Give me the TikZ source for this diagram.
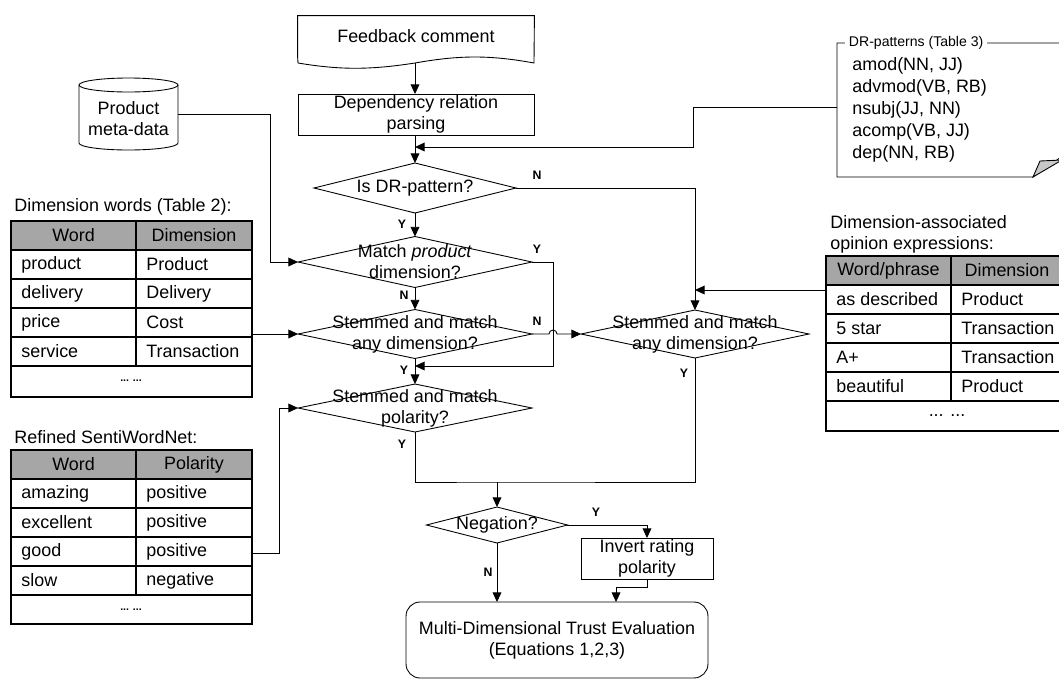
\documentclass[tikz,border=0pt]{standalone}
\usepackage{fontspec}
\setmainfont{Liberation Sans}
\usepackage{xcolor}
\usepackage{tikz}
\usetikzlibrary{arrows.meta, positioning, calc, shapes.geometric}

\definecolor{hdrgray}{HTML}{A6A6A6}
\definecolor{foldgray}{HTML}{C8C8C8}

\begin{document}
\begin{tikzpicture}[x=0.02cm, y=-0.02cm,
  every node/.style={font=\fontsize{10.2}{12}\selectfont},
  line width=0.5pt,
  arr/.style={-{Triangle[length=5.5pt,width=5pt]}},
  dmd/.style={diamond, draw, inner sep=0pt, outer sep=0pt},
  box/.style={draw, inner sep=0pt, outer sep=0pt, align=center},
  yn/.style={font=\fontsize{7}{8}\selectfont\bfseries, inner sep=0pt},
  tbl/.style={line width=0.9pt},
  cell/.style={anchor=west, inner sep=0pt}]
  \useasboundingbox (0,0) rectangle (1059,680);

  % Feedback comment (document)
  \node[inner sep=0pt, minimum width=4.72cm, minimum height=0.8cm] (fb) at (416,36) {Feedback comment};
  \draw (fb.south west) -- (fb.north west) -- (fb.north east) -- (534,63)
        .. controls (490,55) and (460,55) .. (415,63)
        .. controls (370,70) and (340,70) .. (298,63) -- cycle;
  \coordinate (fbout) at (415,63);
  % Dependency relation parsing
  \node[box, minimum width=4.72cm, minimum height=0.82cm] (dep) at (416,114.5) {Dependency relation\\parsing};
  \draw[arr] (fbout) -- (dep.north -| fbout);

  % decisions, main column
  \node[dmd, minimum width=4.04cm, minimum height=1.0cm,
        label={center:Is DR-pattern?}] (isdr) at (415,188) {};
  \node[dmd, minimum width=4.68cm, minimum height=1.02cm,
        label={[align=center]center:Match \textit{product}\\dimension?}] (mprod) at (415,262) {};
  \node[dmd, minimum width=4.68cm, minimum height=0.98cm,
        label={[align=center]center:Stemmed and match\\any dimension?}] (stemL) at (415,334) {};
  \node[dmd, minimum width=4.68cm, minimum height=0.96cm,
        label={[align=center]center:Stemmed and match\\polarity?}] (pol) at (415,408) {};
  % decision, right column
  \node[dmd, minimum width=4.56cm, minimum height=0.96cm,
        label={[align=center]center:Stemmed and match\\any dimension?}] (stemR) at (695,334) {};
  % negation
  \node[dmd, minimum width=2.82cm, minimum height=0.72cm,
        label={center:Negation?}] (neg) at (497,525) {};
  \node[box, minimum width=2.64cm, minimum height=0.82cm] (inv) at (647,558.5) {Invert rating\\polarity};
  \node[box, rounded corners=8pt, minimum width=6.04cm, minimum height=1.52cm] (mdte) at (557,640)
        {Multi-Dimensional Trust Evaluation\\(Equations 1,2,3)};

  % Product meta-data (cylinder)
  \node[inner sep=0pt, minimum width=1.98cm, minimum height=1.44cm,
        label={[align=center, yshift=-0.1cm]center:Product\\meta-data}] (pmd) at (128.5,114) {};
  \draw (79,85) -- (79,143) arc[start angle=180, end angle=360, x radius=0.99cm, y radius=0.14cm] -- (178,85);
  \draw (128.5,85) ellipse [x radius=0.99cm, y radius=0.14cm];

  % DR-patterns note
  \draw (1068,43) -- (837,43) -- (837,177) -- (1033,177) -- (1068,152);
  \filldraw[fill=foldgray] (1033,177) -- (1040,161) -- (1062,160) -- cycle;
  \node[anchor=west, fill=white, inner sep=2pt, font=\fontsize{8}{9}\selectfont] (drtitle) at (845,43) {DR-patterns (Table 3)};
  \node[anchor=west, align=left, inner sep=0pt, font=\fontsize{10.2}{12.6}\selectfont] (drlist) at (852,110)
        {amod(NN, JJ)\\advmod(VB, RB)\\nsubj(JJ, NN)\\acomp(VB, JJ)\\dep(NN, RB)};
  \coordinate (drout) at (837,107);
  \coordinate (drin) at (415,147);

  % Dimension words (Table 2)
  \node[cell] (dwt) at (14,207) {Dimension words (Table 2):};
  \fill[hdrgray] (11,221) rectangle (252,250);
  \draw[tbl] (11,221) rectangle (252,397);
  \draw[tbl] (136,221) -- (136,366);
  \foreach \y in {250,279,308,337,366} \draw[tbl] (11,\y) -- (252,\y);
  \node (dwh1) at (73.5,235.5) {Word};
  \node (dwh2) at (194,235.5) {Dimension};
  \foreach \w/\d [count=\i] in {product/Product,delivery/Delivery,price/Cost,service/Transaction} {
    \node[cell] (dw\i-a) at (21,{235.5+29*\i}) {\w};
    \node[cell] (dw\i-b) at (146,{235.5+29*\i}) {\d};
  }
  \node[font=\fontsize{6}{7}\selectfont\bfseries] (dwdots) at (131,381) {... ...};
  \coordinate (dwout) at (252,334);

  % Refined SentiWordNet
  \node[cell] (swt) at (14,437) {Refined SentiWordNet:};
  \fill[hdrgray] (11,450) rectangle (252,479);
  \draw[tbl] (11,450) rectangle (252,624);
  \draw[tbl] (136,450) -- (136,595);
  \foreach \y in {479,508,537,566,595} \draw[tbl] (11,\y) -- (252,\y);
  \node (swh1) at (73.5,464.5) {Word};
  \node (swh2) at (194,464.5) {Polarity};
  \foreach \w/\d [count=\i] in {amazing/positive,excellent/positive,good/positive,slow/negative} {
    \node[cell] (sw\i-a) at (21,{464.5+29*\i}) {\w};
    \node[cell] (sw\i-b) at (146,{464.5+29*\i}) {\d};
  }
  \node[font=\fontsize{6}{7}\selectfont\bfseries] (swdots) at (131,610) {... ...};
  \coordinate (swout) at (252,553);

  % Dimension-associated opinion expressions
  \node[cell, align=left, anchor=north west] (dat) at (830,215) {Dimension-associated\\opinion expressions:};
  \fill[hdrgray] (826,256) rectangle (1066,285);
  \draw[tbl] (826,256) rectangle (1066,431);
  \draw[tbl] (951,256) -- (951,401);
  \foreach \y in {285,314,343,372,401} \draw[tbl] (826,\y) -- (1066,\y);
  \node (dah1) at (888.5,270.5) {Word/phrase};
  \node (dah2) at (1007,270.5) {Dimension};
  \foreach \w/\d [count=\i] in {as described/Product,5 star/Transaction,A+/Transaction,beautiful/Product} {
    \node[cell] (da\i-a) at (836,{270.5+29*\i}) {\w};
    \node[cell] (da\i-b) at (961,{270.5+29*\i}) {\d};
  }
  \node (dadots) at (947,416) {... ...};
  \coordinate (daout) at (826,290);

  % connectors
  \draw[arr] (dep.south -| drin) -- (isdr.north);
  \draw[arr] (drout) -- ++(-144,0) |- (drin);
  \draw[arr] (isdr.south) -- (mprod.north);
  \draw[arr] (isdr.east) -| (stemR.north);
  \draw[arr] (daout) -- (daout -| stemR.north);
  \draw[arr] (pmd.east) -- ++(92,0) |- (mprod.west);
  \draw[arr] (mprod.south) -- (stemL.north);
  \coordinate (ymerge) at (415,366);
  \draw[arr] (mprod.east) -- ++(21,0) |- (ymerge);
  \draw[arr] (stemL.east) -- (549,334) arc[start angle=180, end angle=0, radius=0.08cm] -- (stemR.west);
  \draw[arr] (dwout) -- (stemL.west);
  \draw[arr] (stemL.south) -- (pol.north);
  \draw[arr] (swout) -- ++(27,0) |- (pol.west);
  \coordinate (join) at (497,482);
  \draw (pol.south) |- (join) -| (stemR.south);
  \draw[arr] (join) -- (neg.north);
  \draw[arr] (neg.east) -| (inv.north);
  \draw[arr] (neg.south) -- (neg.south |- mdte.north);
  \draw[arr] (inv.south) -- ++(0,8) -| ($(mdte.north west)+(210,0)$);

  % Y / N labels
  \node[yn] (l1) at (537,175) {N};
  \node[yn] (l2) at (402,224) {Y};
  \node[yn] (l3) at (537,249) {Y};
  \node[yn] (l4) at (404,295) {N};
  \node[yn] (l5) at (537,321) {N};
  \node[yn] (l6) at (404,370) {Y};
  \node[yn] (l7) at (402,444) {Y};
  \node[yn] (l8) at (684,373) {Y};
  \node[yn] (l9) at (596,512) {Y};
  \node[yn] (l10) at (488,572) {N};
\end{tikzpicture}
\end{document}
